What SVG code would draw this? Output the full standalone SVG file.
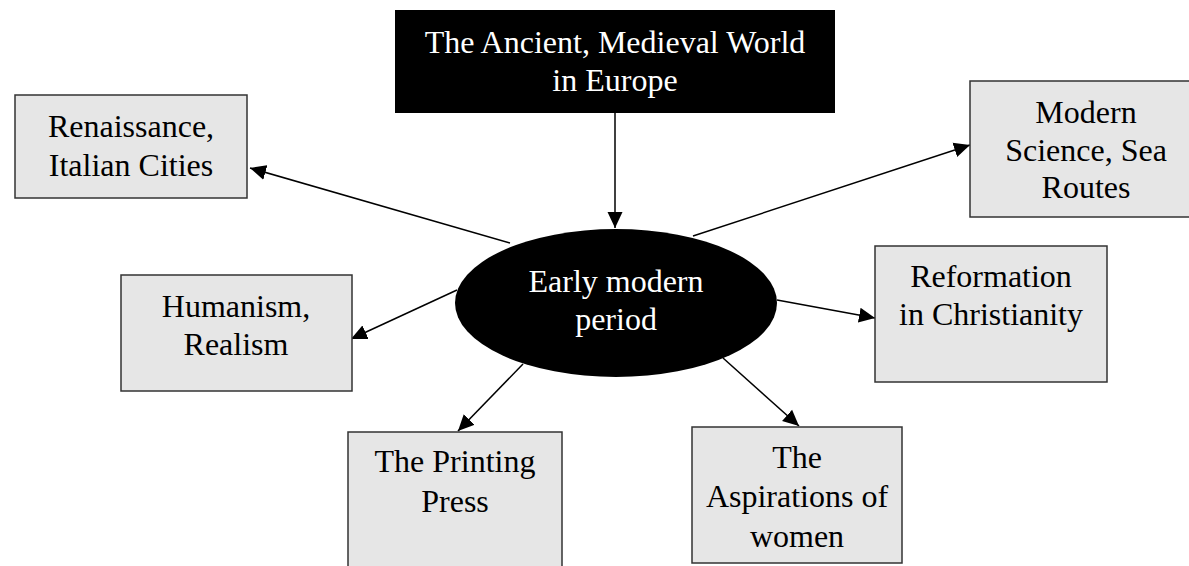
<svg xmlns="http://www.w3.org/2000/svg" width="1189" height="566" viewBox="0 0 1189 566">
<style>
  text { font-family: "Liberation Serif", "Times New Roman", serif; font-size: 32px; text-anchor: middle; }
  .box { fill: #e6e6e6; stroke: #333333; stroke-width: 1.5; }
  .dark { fill: #000000; }
  .lt { fill: #ffffff; }
  .dt { fill: #000000; }
  .conn line { stroke: #000000; stroke-width: 1.5; marker-end: url(#arrow); }
</style>
<defs>
  <marker id="arrow" viewBox="0 0 16 16" refX="16" refY="8" markerWidth="16" markerHeight="16" markerUnits="userSpaceOnUse" orient="auto">
    <path d="M0,0.5 L16,8 L0,15.5 z" fill="#000000"/>
  </marker>
</defs>
<rect width="1189" height="566" fill="#ffffff"/>

<g class="conn" id="connectors">
  <line x1="615" y1="113" x2="615" y2="228"/>
  <line x1="510" y1="243" x2="250" y2="168"/>
  <line x1="693" y1="236" x2="970" y2="145"/>
  <line x1="457" y1="290" x2="351" y2="339"/>
  <line x1="777" y1="300" x2="875" y2="318"/>
  <line x1="523" y1="364" x2="458" y2="431"/>
  <line x1="723" y1="358" x2="799" y2="426"/>
</g>

<g id="ancient">
  <rect class="dark" x="395" y="10" width="440" height="103"/>
  <text class="lt" x="615" y="53">The Ancient, Medieval World</text>
  <text class="lt" x="615" y="91">in Europe</text>
</g>

<g id="early">
  <ellipse class="dark" cx="616" cy="303" rx="161" ry="74"/>
  <text class="lt" x="616" y="292">Early modern</text>
  <text class="lt" x="616" y="330">period</text>
</g>

<g id="renaissance">
  <rect class="box" x="15" y="95" width="232" height="103"/>
  <text class="dt" x="131" y="137">Renaissance,</text>
  <text class="dt" x="131" y="176">Italian Cities</text>
</g>

<g id="science">
  <rect class="box" x="970" y="81" width="232" height="136"/>
  <text class="dt" x="1086" y="123">Modern</text>
  <text class="dt" x="1086" y="161">Science, Sea</text>
  <text class="dt" x="1086" y="198">Routes</text>
</g>

<g id="humanism">
  <rect class="box" x="121" y="275" width="231" height="116"/>
  <text class="dt" x="236" y="317">Humanism,</text>
  <text class="dt" x="236" y="355">Realism</text>
</g>

<g id="reformation">
  <rect class="box" x="875" y="246" width="232" height="136"/>
  <text class="dt" x="991" y="287">Reformation</text>
  <text class="dt" x="991" y="325">in Christianity</text>
</g>

<g id="printing">
  <rect class="box" x="348" y="432" width="214" height="150"/>
  <text class="dt" x="455" y="472">The Printing</text>
  <text class="dt" x="455" y="512">Press</text>
</g>

<g id="women">
  <rect class="box" x="692" y="427" width="210" height="136"/>
  <text class="dt" x="797" y="468">The</text>
  <text class="dt" x="797" y="507">Aspirations of</text>
  <text class="dt" x="797" y="547">women</text>
</g>
</svg>
